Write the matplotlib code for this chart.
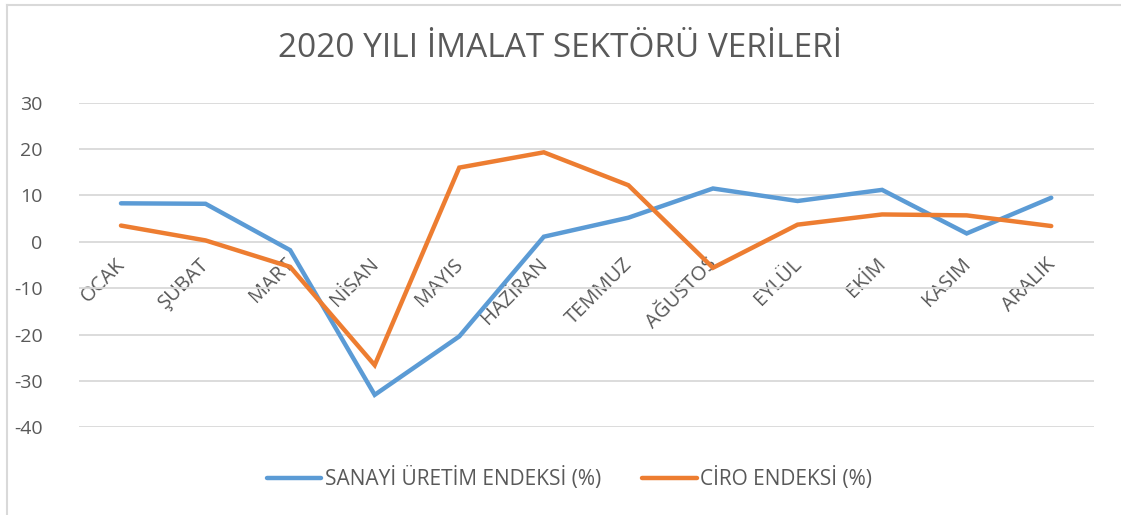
import numpy as np
import matplotlib.pyplot as plt
import matplotlib.transforms as mtransforms
from matplotlib.lines import Line2D

plt.rcParams['font.family'] = ['Open Sans', 'DejaVu Sans']
plt.rcParams['axes.unicode_minus'] = False

aylar = ['OCAK', 'ŞUBAT', 'MART', 'NİSAN', 'MAYIS', 'HAZİRAN',
         'TEMMUZ', 'AĞUSTOS', 'EYLÜL', 'EKİM', 'KASIM', 'ARALIK']
sanayi = [8.3, 8.2, -1.8, -33.0, -20.4, 1.1, 5.2, 11.5, 8.8, 11.2, 1.8, 9.5]
ciro = [3.5, 0.3, -5.4, -26.6, 16.0, 19.3, 12.2, -5.6, 3.7, 5.9, 5.7, 3.4]
y_ticks = [30, 20, 10, 0, -10, -20, -30, -40]

mavi = '#5B9BD5'
turuncu = '#ED7D31'
gri = '#595959'

fig = plt.figure(figsize=(11.21, 5.15), dpi=100)
ax = fig.add_axes([0.0702, 0.1703, 0.9053, 0.6303])

x = np.arange(len(aylar))
ax.plot(x, sanayi, color=mavi, lw=3.2, solid_capstyle='round', solid_joinstyle='miter',
        label='SANAYİ ÜRETİM ENDEKSİ (%)', zorder=3)
ax.plot(x, ciro, color=turuncu, lw=3.2, solid_capstyle='round', solid_joinstyle='miter',
        label='CİRO ENDEKSİ (%)', zorder=3)

ax.set_xlim(-0.5, len(aylar) - 0.5)
ax.set_ylim(-40, 30)
ax.set_yticks(y_ticks)
ax.grid(axis='y', color='#d9d9d9', lw=1.3)
ax.set_axisbelow(True)
for s in ax.spines.values():
    s.set_visible(False)
ax.spines['bottom'].set_position(('data', 0))

ax.set_xticks(x)
ax.set_xticklabels(aylar, rotation=45, ha='right', va='top', rotation_mode='anchor')
ax.tick_params(axis='x', length=0, pad=9, labelsize=14.5, labelcolor=gri)
ax.tick_params(axis='y', length=0, pad=26, labelsize=14, labelcolor=gri)
kaydir = mtransforms.ScaledTranslation(-6 / 100, 0, fig.dpi_scale_trans)
for lbl in ax.get_xticklabels():
    lbl.set_transform(lbl.get_transform() + kaydir)

fig.text(0.5, 0.905, '2020 YILI İMALAT SEKTÖRÜ VERİLERİ', ha='center', va='center',
         fontsize=24, color=gri)

handles = [Line2D([], [], color=mavi, lw=3.2, solid_capstyle='round'),
           Line2D([], [], color=turuncu, lw=3.2, solid_capstyle='round')]
fig.legend(handles, ['SANAYİ ÜRETİM ENDEKSİ (%)', 'CİRO ENDEKSİ (%)'],
           loc='center', bbox_to_anchor=(0.508, 0.07), ncol=2, frameon=False,
           fontsize=15, labelcolor=gri, handlelength=2.6, handletextpad=0.15,
           columnspacing=2.0)

# cerceve
fig.add_artist(Line2D([7 / 1121, 1], [1 - 4.5 / 515, 1 - 4.5 / 515], color='#d9d9d9', lw=1.5))
fig.add_artist(Line2D([7 / 1121, 7 / 1121], [0, 1 - 4.5 / 515], color='#d9d9d9', lw=1.5))

fig.savefig('out.png', dpi=100)
